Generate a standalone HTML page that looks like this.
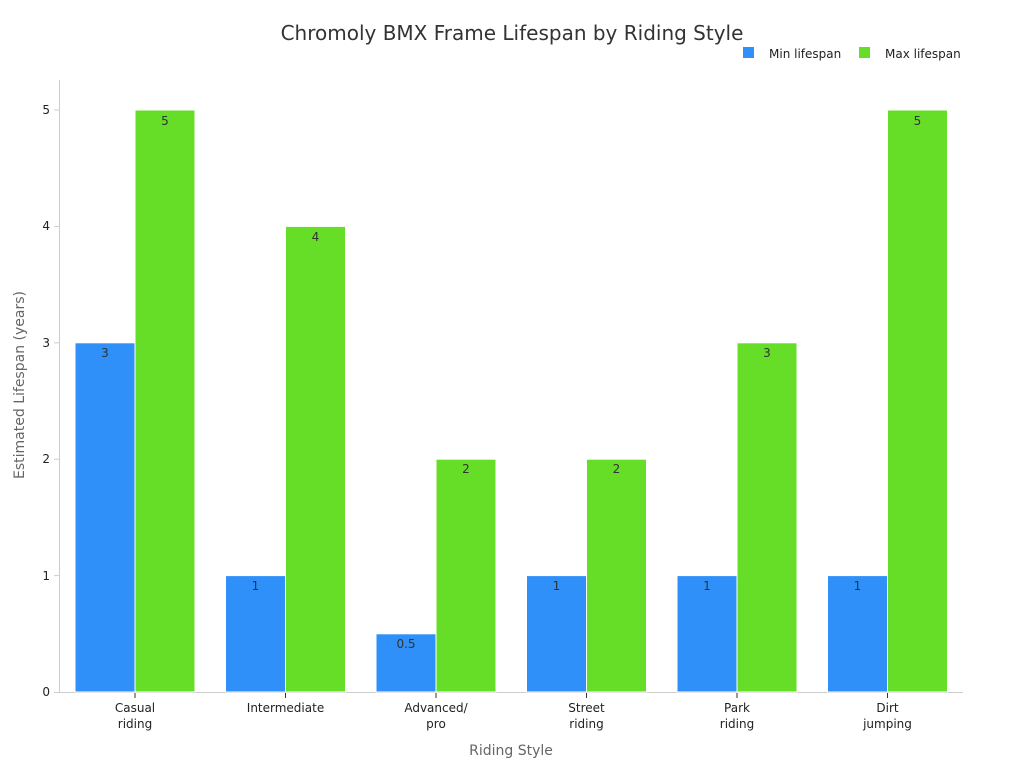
<!DOCTYPE html>
<html><head><meta charset="utf-8"><style>body{margin:0;background:#fff}</style></head><body>
<svg width="1024" height="768" xmlns="http://www.w3.org/2000/svg" font-family="DejaVu Sans, Liberation Sans, sans-serif">
<text x="512" y="40" text-anchor="middle" font-size="20" fill="#333">Chromoly BMX Frame Lifespan by Riding Style</text>
<rect x="743" y="47" width="11" height="11" fill="#2e90f8"/><text x="769" y="58" font-size="12" fill="#222">Min lifespan</text>
<rect x="859" y="47" width="11" height="11" fill="#66dd26"/><text x="885" y="58" font-size="12" fill="#222">Max lifespan</text>
<g stroke="#ccc" stroke-width="1">
<line x1="59.5" y1="80" x2="59.5" y2="692"/><line x1="59.5" y1="692.5" x2="963" y2="692.5"/>
<line x1="54" y1="692.5" x2="59.5" y2="692.5"/><line x1="54" y1="575.6" x2="59.5" y2="575.6"/><line x1="54" y1="459.2" x2="59.5" y2="459.2"/><line x1="54" y1="342.8" x2="59.5" y2="342.8"/><line x1="54" y1="226.4" x2="59.5" y2="226.4"/><line x1="54" y1="110" x2="59.5" y2="110"/>
</g>
<g font-size="12" fill="#222" text-anchor="end">
<text x="50" y="696">0</text><text x="50" y="580">1</text><text x="50" y="463">2</text><text x="50" y="347">3</text><text x="50" y="230">4</text><text x="50" y="114">5</text>
</g>
<g stroke="#fff" stroke-width="1">
<rect x="75" y="342.8" width="60" height="349.2" fill="#2e90f8"/><rect x="135" y="110" width="60" height="582" fill="#66dd26"/>
<rect x="225.5" y="575.6" width="60" height="116.4" fill="#2e90f8"/><rect x="285.5" y="226.4" width="60" height="465.6" fill="#66dd26"/>
<rect x="376" y="633.8" width="60" height="58.2" fill="#2e90f8"/><rect x="436" y="459.2" width="60" height="232.8" fill="#66dd26"/>
<rect x="526.5" y="575.6" width="60" height="116.4" fill="#2e90f8"/><rect x="586.5" y="459.2" width="60" height="232.8" fill="#66dd26"/>
<rect x="677" y="575.6" width="60" height="116.4" fill="#2e90f8"/><rect x="737" y="342.8" width="60" height="349.2" fill="#66dd26"/>
<rect x="827.5" y="575.6" width="60" height="116.4" fill="#2e90f8"/><rect x="887.5" y="110" width="60" height="582" fill="#66dd26"/>
</g>
<g font-size="12" fill="#333" text-anchor="middle">
<text x="105" y="357">3</text><text x="165" y="125">5</text>
<text x="255.5" y="590">1</text><text x="315.5" y="241">4</text>
<text x="406" y="648">0.5</text><text x="466" y="473">2</text>
<text x="556.5" y="590">1</text><text x="616.5" y="473">2</text>
<text x="707" y="590">1</text><text x="767" y="357">3</text>
<text x="857.5" y="590">1</text><text x="917.5" y="125">5</text>
</g>
<g stroke="#333"><line x1="135" y1="693" x2="135" y2="698"/><line x1="285.5" y1="693" x2="285.5" y2="698"/><line x1="436" y1="693" x2="436" y2="698"/><line x1="586.5" y1="693" x2="586.5" y2="698"/><line x1="737" y1="693" x2="737" y2="698"/><line x1="887.5" y1="693" x2="887.5" y2="698"/></g>
<g font-size="12" fill="#222" text-anchor="middle">
<text x="135" y="712">Casual</text><text x="135" y="728">riding</text>
<text x="285.5" y="712">Intermediate</text>
<text x="436" y="712">Advanced/</text><text x="436" y="728">pro</text>
<text x="586.5" y="712">Street</text><text x="586.5" y="728">riding</text>
<text x="737" y="712">Park</text><text x="737" y="728">riding</text>
<text x="887.5" y="712">Dirt</text><text x="887.5" y="728">jumping</text>
</g>
<text x="511" y="755" text-anchor="middle" font-size="14" fill="#666">Riding Style</text>
<text transform="translate(24,385) rotate(-90)" text-anchor="middle" font-size="14" fill="#666">Estimated Lifespan (years)</text>
</svg>
</body></html>
